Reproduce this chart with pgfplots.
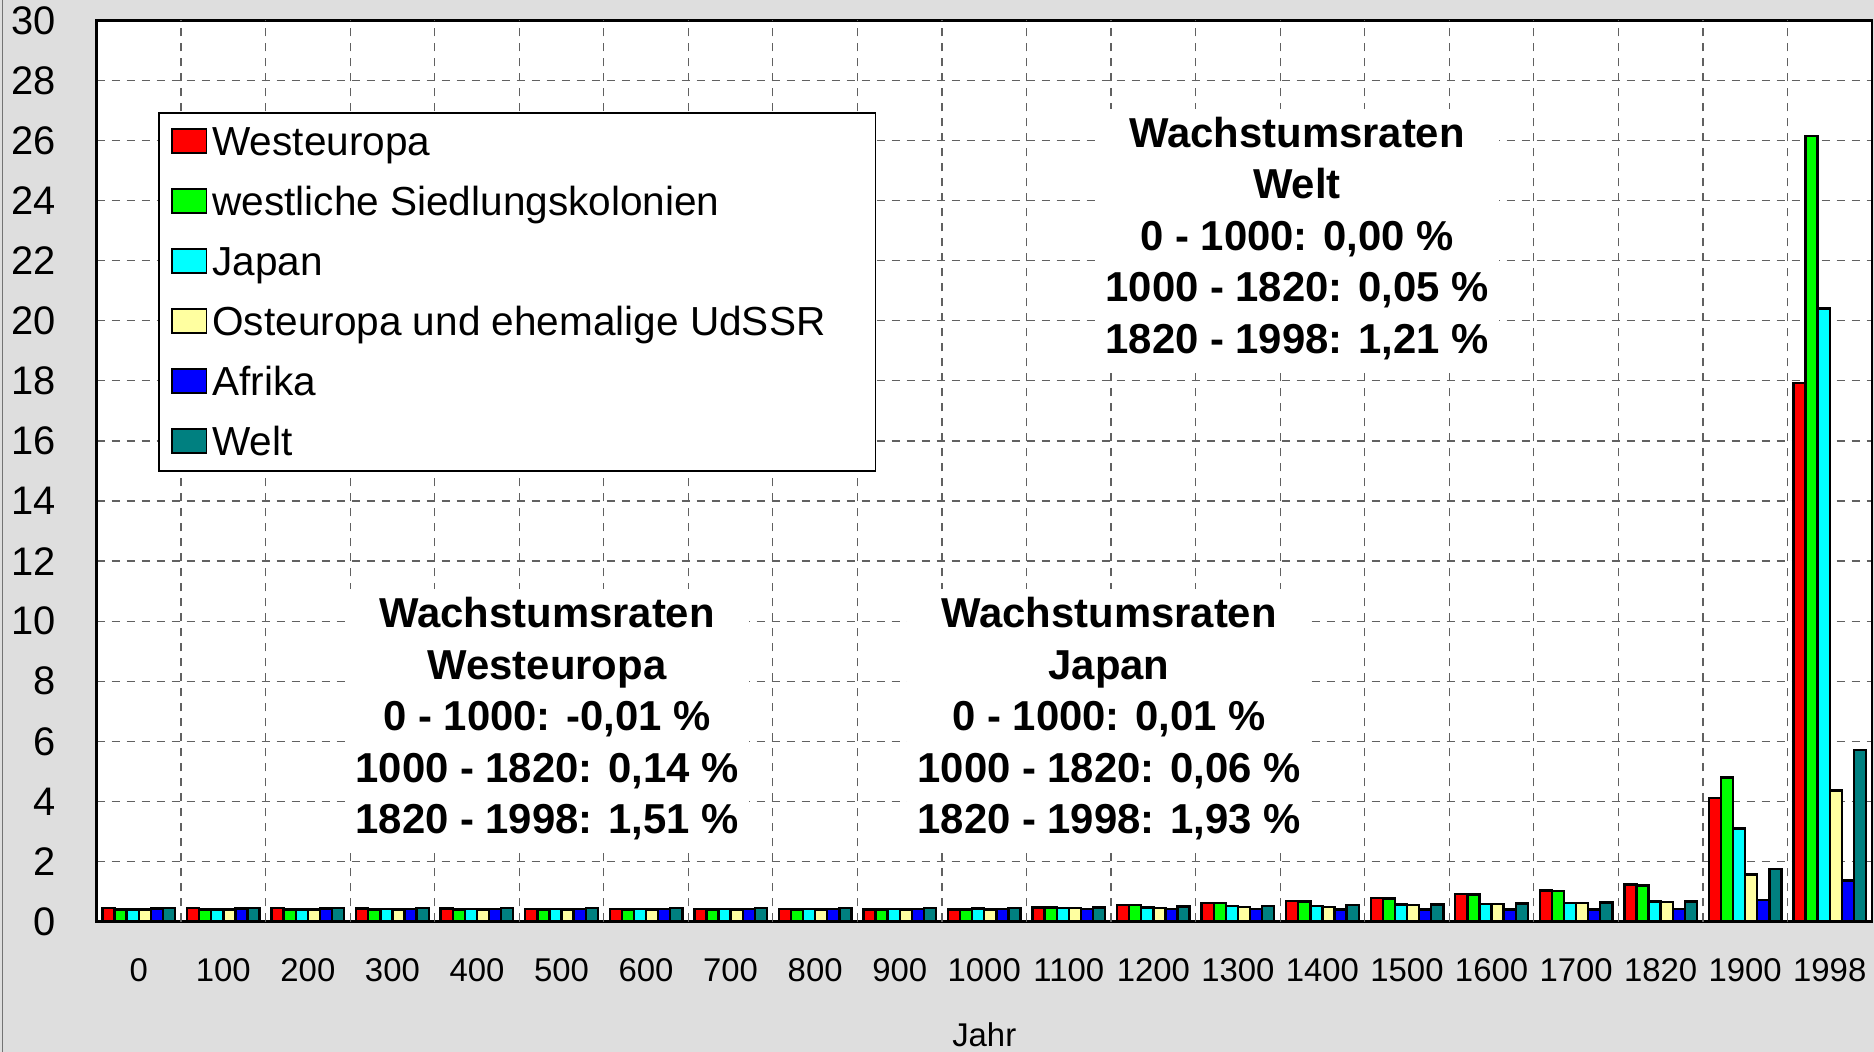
\documentclass[border=0pt]{standalone}
\usepackage{fontspec}
\setmainfont{Liberation Sans}
\usepackage{pgfplots}
\usepackage{pgfplotstable}
\pgfplotsset{compat=1.18}
\definecolor{bg}{RGB}{222,222,222}
\definecolor{cWE}{RGB}{255,0,0}
\definecolor{cWO}{RGB}{0,255,0}
\definecolor{cJP}{RGB}{0,255,255}
\definecolor{cEE}{RGB}{255,255,160}
\definecolor{cAF}{RGB}{0,0,255}
\definecolor{cW}{RGB}{0,128,128}

\pgfplotstableread{
x we wo jp ee af w
0 0.45 0.40 0.40 0.40 0.43 0.44
1 0.44 0.40 0.40 0.40 0.43 0.44
2 0.44 0.40 0.40 0.40 0.43 0.44
3 0.43 0.40 0.41 0.40 0.42 0.44
4 0.43 0.40 0.41 0.40 0.42 0.44
5 0.42 0.40 0.41 0.40 0.42 0.44
6 0.42 0.40 0.41 0.40 0.42 0.44
7 0.41 0.40 0.42 0.40 0.42 0.44
8 0.41 0.40 0.42 0.40 0.42 0.44
9 0.40 0.40 0.42 0.40 0.42 0.44
10 0.40 0.40 0.43 0.40 0.42 0.44
11 0.47 0.47 0.45 0.44 0.42 0.47
12 0.55 0.55 0.47 0.44 0.41 0.50
13 0.62 0.61 0.51 0.48 0.41 0.52
14 0.69 0.67 0.51 0.49 0.40 0.54
15 0.79 0.77 0.56 0.54 0.40 0.57
16 0.91 0.90 0.59 0.58 0.40 0.60
17 1.03 1.01 0.62 0.62 0.40 0.63
18 1.23 1.20 0.66 0.65 0.42 0.67
19 4.12 4.80 3.09 1.56 0.72 1.75
20 17.92 26.15 20.41 4.36 1.37 5.71
}\data

\begin{document}
\begin{tikzpicture}
\fill[bg] (0,0) rectangle (937bp,525.5bp);
\draw[black!55, line width=0.5bp] (1.35bp,0) -- (1.35bp,525.5bp);
\begin{axis}[
  at={(48.25bp,65bp)}, anchor=south west,
  scale only axis, width=887.75bp, height=450.5bp,
  xmin=-0.5, xmax=20.5, ymin=0, ymax=30,
  ybar=0pt, bar width=6.05bp,
  xtick={0,...,20},
  xticklabels={0,100,200,300,400,500,600,700,800,900,1000,1100,1200,1300,1400,1500,1600,1700,1820,1900,1998},
  ytick={0,2,...,30},
  major tick length=0pt,
  ymajorgrids,
  extra x ticks={0.5,1.5,...,19.5},
  extra x tick labels={},
  extra x tick style={xmajorgrids=true, major tick length=0pt},
  grid style={black!62, dash pattern=on 4bp off 3.5bp, line width=0.6bp},
  axis line style={line width=1.3bp},
  axis background/.style={fill=white},
  /pgf/number format/assume math mode=true,
  yticklabel style={font=\fontsize{20}{24}\selectfont, anchor=east, inner sep=0pt, xshift=-20.25bp},
  xticklabel style={font=\fontsize{16.5}{20}\selectfont, anchor=north, inner sep=0pt, yshift=-18.5bp},
  xlabel={Jahr},
  xlabel style={at={(axis description cs:0.5,0)}, anchor=north, inner sep=0pt, yshift=-50.5bp, font=\fontsize{16.5}{20}\selectfont},
  legend image code/.code={\draw[#1, line width=0.9bp] (0bp,1bp) rectangle (17.3bp,13bp);},
  legend cell align=left,
  legend style={
    at={(axis description cs:0.0348,0.898)}, anchor=north west,
    draw=black, line width=0.7bp, fill=white,
    inner xsep=6bp, inner ysep=6bp,
    font=\fontsize{20.35}{24}\selectfont,
    row sep=13bp, column sep=0pt,
    nodes={inner xsep=2.5bp, inner ysep=0pt, text height=15bp, text depth=2bp, anchor=base west},
  },
  every axis plot/.append style={draw=black, line width=1.2bp},
]
\addplot[fill=cWE] table[x=x,y=we]{\data};
\addplot[fill=cWO] table[x=x,y=wo]{\data};
\addplot[fill=cJP] table[x=x,y=jp]{\data};
\addplot[fill=cEE] table[x=x,y=ee]{\data};
\addplot[fill=cAF] table[x=x,y=af]{\data};
\addplot[fill=cW] table[x=x,y=w]{\data};
\legend{Westeuropa, westliche Siedlungskolonien, Japan, Osteuropa und ehemalige UdSSR\hspace*{16.5bp}, Afrika, Welt}
\end{axis}
\begin{scope}[every node/.style={fill=white, align=center, font=\bfseries\fontsize{21}{25.85}\selectfont, inner xsep=5bp, inner ysep=4bp}]
\node at (273.5bp,166.3bp) {Wachstumsraten\\Westeuropa\\0 - 1000: -0,01 \%\\1000 - 1820: 0,14 \%\\1820 - 1998: 1,51 \%};
\node at (554.5bp,166.3bp) {Wachstumsraten\\Japan\\0 - 1000: 0,01 \%\\1000 - 1820: 0,06 \%\\1820 - 1998: 1,93 \%};
\node at (648.5bp,406.5bp) {Wachstumsraten\\Welt\\0 - 1000: 0,00 \%\\1000 - 1820: 0,05 \%\\1820 - 1998: 1,21 \%};
\end{scope}
\end{tikzpicture}
\end{document}
